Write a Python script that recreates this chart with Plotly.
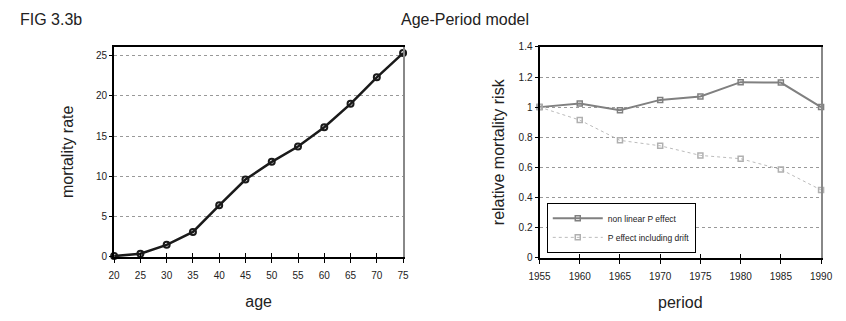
import plotly.graph_objects as go

# ---- data ----
ages = [20, 25, 30, 35, 40, 45, 50, 55, 60, 65, 70, 75]
mortality_rate = [0.1, 0.4, 1.5, 3.1, 6.4, 9.6, 11.8, 13.7, 16.1, 19.0, 22.3, 25.3]

periods = [1955, 1960, 1965, 1970, 1975, 1980, 1985, 1990]
nonlinear_p = [1.0, 1.024, 0.979, 1.048, 1.071, 1.166, 1.163, 1.0]
p_with_drift = [1.0, 0.914, 0.779, 0.743, 0.679, 0.657, 0.586, 0.449]

age_ticks = ages
age_tick_labels = [str(a) for a in ages]
rate_ticks = [0, 5, 10, 15, 20, 25]
period_ticks = periods
risk_ticks = [0, 0.2, 0.4, 0.6, 0.8, 1.0, 1.2, 1.4]
risk_tick_labels = ["0", "0.2", "0.4", "0.6", "0.8", "1", "1.2", "1.4"]

FONT = "Liberation Sans, Arial, sans-serif"
LX = [0.1253, 0.4764]
LY = [0.19, 0.866]
RX = [0.6422, 0.9843]
RY = [0.1879, 0.8651]
AGE_RANGE = [20, 75]
RATE_RANGE = [0, 26.1]
PER_RANGE = [1955, 1990]
RISK_RANGE = [0, 1.4]

fig = go.Figure()

fig.add_trace(go.Scatter(
    x=ages, y=mortality_rate, mode="lines+markers",
    line=dict(color="#1a1a1a", width=2.5),
    marker=dict(symbol="circle-open", size=6, color="#1a1a1a", line=dict(width=2)),
    xaxis="x", yaxis="y", showlegend=False, cliponaxis=False,
))

fig.add_trace(go.Scatter(
    x=periods, y=nonlinear_p, mode="lines+markers", name="non linear P effect",
    line=dict(color="#808080", width=2),
    marker=dict(symbol="square-open", size=5, color="#808080", line=dict(width=1.5)),
    xaxis="x2", yaxis="y2", cliponaxis=False,
))
fig.add_trace(go.Scatter(
    x=periods, y=p_with_drift, mode="lines+markers", name="P effect including drift",
    line=dict(color="#bbbbbb", width=1, dash="dot"),
    marker=dict(symbol="square-open", size=5, color="#b0b0b0", line=dict(width=1.5)),
    xaxis="x2", yaxis="y2", cliponaxis=False,
))

tickfont = dict(family=FONT, size=10, color="#222")
titlefont = dict(family=FONT, size=16, color="#222")

common_x = dict(showgrid=False, zeroline=False, showline=True, linecolor="#000", linewidth=2,
                ticks="outside", ticklen=4, tickcolor="#000", tickfont=tickfont,
                ticklabelstandoff=4)
common_y = dict(showgrid=True, gridcolor="#999", griddash="dot", gridwidth=1, zeroline=False,
                showline=True, linecolor="#000", linewidth=2, ticks="outside", ticklen=3,
                tickcolor="#000", tickfont=tickfont)

fig.update_layout(
    width=846, height=321,
    margin=dict(l=0, r=0, t=0, b=0),
    paper_bgcolor="white", plot_bgcolor="white",
    font=dict(family=FONT),
    xaxis=dict(domain=LX, anchor="y", range=AGE_RANGE,
               tickvals=age_ticks, ticktext=age_tick_labels,
               title=dict(text="age", font=titlefont, standoff=16), **common_x),
    yaxis=dict(domain=LY, anchor="x", range=RATE_RANGE, tickvals=rate_ticks,
               title=dict(text="mortality rate", font=titlefont, standoff=18), **common_y),
    xaxis2=dict(domain=RX, anchor="y2", range=PER_RANGE,
                tickvals=period_ticks,
                title=dict(text="period", font=titlefont, standoff=16), **common_x),
    yaxis2=dict(domain=RY, anchor="x2", range=RISK_RANGE,
                tickvals=risk_ticks, ticktext=risk_tick_labels,
                title=dict(text="relative mortality risk", font=titlefont, standoff=10), **common_y),
    legend=dict(x=0.651, y=0.203, xanchor="left", yanchor="bottom",
                bgcolor="white", bordercolor="#000", borderwidth=1,
                font=dict(family=FONT, size=8.5, color="#222"),
                tracegroupgap=0, itemwidth=50),
    annotations=[
        dict(text="FIG 3.3b", x=0.008, y=0.953, xref="paper", yref="paper",
             xanchor="left", yanchor="middle", showarrow=False,
             font=dict(family=FONT, size=16, color="#222")),
        dict(text="Age-Period model", x=0.552, y=0.953, xref="paper", yref="paper",
             xanchor="center", yanchor="middle", showarrow=False,
             font=dict(family=FONT, size=16, color="#222")),
    ],
)

border_top = dict(showline=True, linecolor="#000", linewidth=1.5, showticklabels=False,
                  ticks="", showgrid=False, zeroline=False, side="top")
border_right = dict(showline=True, linecolor="#888", linewidth=1.5, showticklabels=False,
                    ticks="", showgrid=False, zeroline=False, side="right")
inner_ticks = dict(showline=False, showticklabels=False, ticks="inside", ticklen=4,
                   tickcolor="#000", tickwidth=1, showgrid=False, zeroline=False, side="bottom")

fig.update_layout(
    xaxis3=dict(domain=LX, anchor="y", overlaying="x", range=AGE_RANGE, **border_top),
    yaxis3=dict(domain=LY, anchor="x", overlaying="y", range=RATE_RANGE, **border_right),
    xaxis4=dict(domain=RX, anchor="y2", overlaying="x2", range=PER_RANGE, **border_top),
    yaxis4=dict(domain=RY, anchor="x2", overlaying="y2", range=RISK_RANGE, **border_right),
    xaxis5=dict(domain=LX, anchor="y", overlaying="x", range=AGE_RANGE,
                tickvals=age_ticks, **inner_ticks),
    xaxis6=dict(domain=RX, anchor="y2", overlaying="x2", range=PER_RANGE,
                tickvals=period_ticks, **inner_ticks),
)
fig.add_trace(go.Scatter(x=[], y=[], xaxis="x3", yaxis="y3", showlegend=False))
fig.add_trace(go.Scatter(x=[], y=[], xaxis="x4", yaxis="y4", showlegend=False))
fig.add_trace(go.Scatter(x=[], y=[], xaxis="x5", yaxis="y", showlegend=False))
fig.add_trace(go.Scatter(x=[], y=[], xaxis="x6", yaxis="y2", showlegend=False))

fig.write_html("out.html")
